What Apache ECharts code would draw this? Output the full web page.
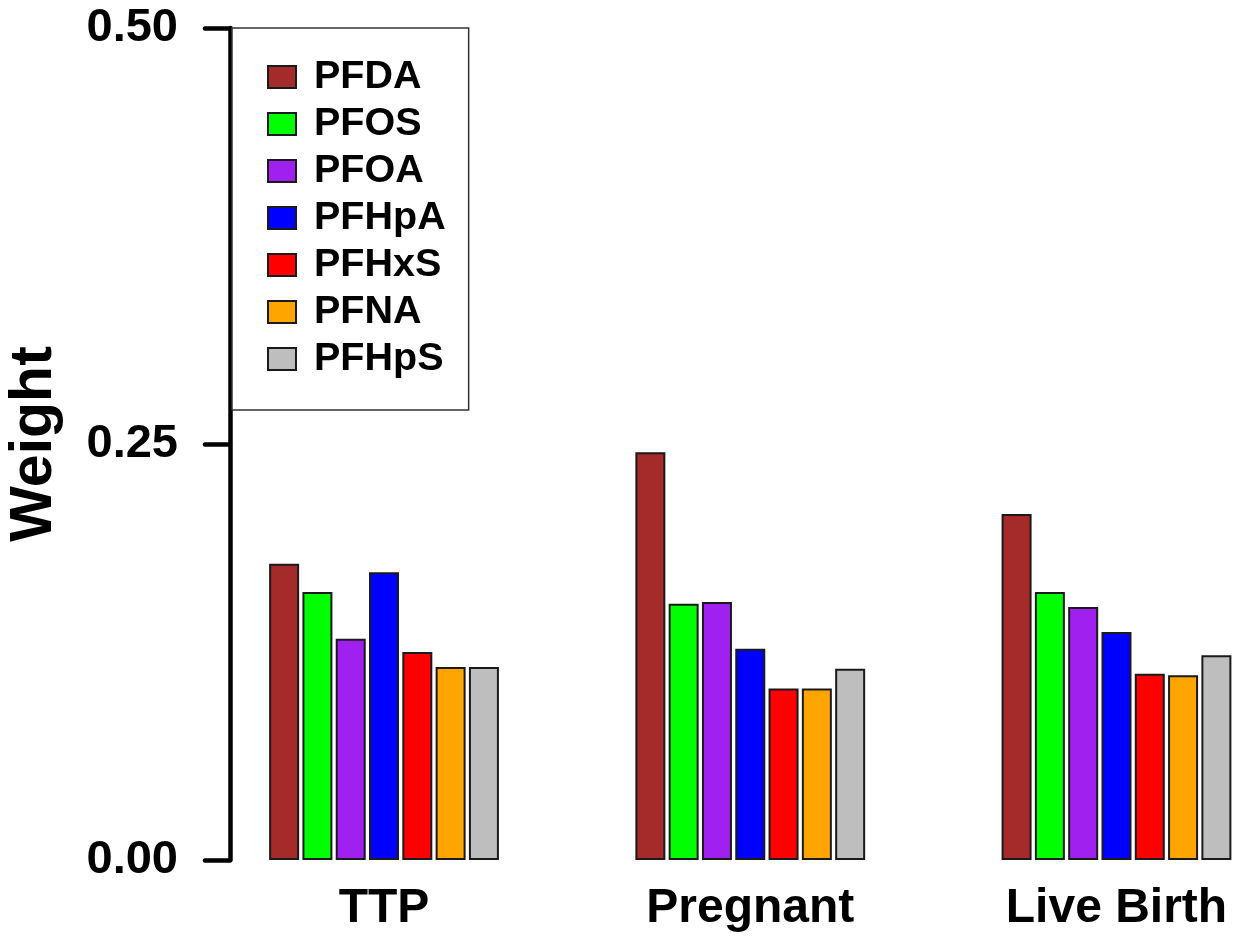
<!DOCTYPE html>
<html>
<head>
<meta charset="utf-8">
<script src="https://cdn.jsdelivr.net/npm/echarts@6/dist/echarts.min.js"></script>
<style>html,body{margin:0;padding:0;background:#fff}#c{width:1250px;height:937px}</style>
</head>
<body>
<div id="c"></div>
<script>
const categories = ['TTP', 'Pregnant', 'Live Birth'];
const seriesNames = ['PFDA', 'PFOS', 'PFOA', 'PFHpA', 'PFHxS', 'PFNA', 'PFHpS'];
const PFDA  = [0.178, 0.245, 0.208];
const PFOS  = [0.161, 0.154, 0.161];
const PFOA  = [0.133, 0.155, 0.152];
const PFHpA = [0.173, 0.127, 0.137];
const PFHxS = [0.125, 0.103, 0.112];
const PFNA  = [0.116, 0.103, 0.111];
const PFHpS = [0.116, 0.115, 0.123];
const seriesValues = [PFDA, PFOS, PFOA, PFHpA, PFHxS, PFNA, PFHpS];
const colors = ['#A52A2A', '#00FF00', '#A020F0', '#0000FF', '#FF0000', '#FFA500', '#BEBEBE'];
const yTicks = [0, 0.25, 0.5];

const FONT = '"Liberation Sans", Arial, Helvetica, sans-serif';
const chart = echarts.init(document.getElementById('c'), null, {renderer: 'canvas'});
chart.setOption({
  backgroundColor: '#fff',
  animation: false,
  grid: {left: 200.9, width: 1098.7, top: 28, bottom: 77, containLabel: false, outerBoundsMode: 'none'},
  legend: {
    data: seriesNames,
    orient: 'vertical',
    left: 232,
    top: 28,
    icon: 'rect',
    itemWidth: 28,
    itemHeight: 22,
    itemGap: 7,
    padding: [29, 23, 31, 35],
    borderColor: '#333',
    borderWidth: 1.5,
    backgroundColor: '#fff',
    textStyle: {fontFamily: FONT, fontWeight: 'bold', fontSize: 39.5, lineHeight: 40, color: '#000', padding: [0, 0, 0, 13]}
  },
  xAxis: {
    type: 'category',
    data: categories,
    axisLine: {show: false},
    axisTick: {show: false},
    axisLabel: {fontFamily: FONT, fontWeight: 'bold', fontSize: 48, color: '#000', margin: 25}
  },
  yAxis: {
    type: 'value',
    min: yTicks[0],
    max: yTicks[yTicks.length - 1],
    interval: 0.25,
    offset: -29.1,
    name: 'Weight',
    nameLocation: 'middle',
    nameGap: 166,
    nameTextStyle: {fontFamily: FONT, fontWeight: 'bold', fontSize: 59, color: '#000'},
    splitLine: {show: false},
    axisLine: {show: true, lineStyle: {color: '#000', width: 4.5, cap: 'round'}},
    axisTick: {show: true, length: 25, lineStyle: {color: '#000', width: 4.5, cap: 'round'}},
    axisLabel: {fontFamily: FONT, fontWeight: 'bold', fontSize: 47, color: '#000', margin: 52,
      formatter: v => v.toFixed(2)}
  },
  series: seriesNames.map((n, i) => ({
    name: n,
    type: 'bar',
    data: seriesValues[i],
    barWidth: 30,
    barGap: '11%',
    itemStyle: {color: colors[i], borderColor: '#1a1a1a', borderWidth: 2}
  }))
});
</script>
</body>
</html>
